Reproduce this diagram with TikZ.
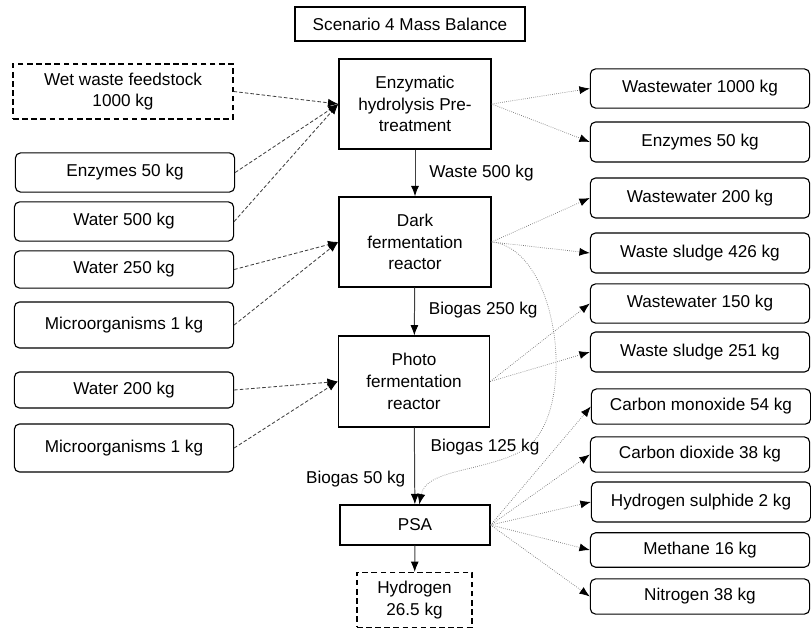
\documentclass[tikz,border=0pt]{standalone}
\usepackage{fontspec}
\setmainfont{Liberation Sans}
\usetikzlibrary{arrows.meta}
\tikzset{>={Latex[length=2.6mm,width=2mm,color=black]},font=\fontsize{12.2}{15.4}\selectfont}
\tikzset{
  procbox/.style={draw,line width=0.9pt,inner sep=0pt,align=center},
  sidebox/.style={draw,line width=0.8pt,rounded corners=1.3mm,inner sep=0pt,minimum width=5.48cm,align=center},
  dashbox/.style={draw,line width=0.9pt,dash pattern=on 4pt off 2.5pt,inner sep=0pt,align=center},
  inflow/.style={draw=black!75,line width=0.6pt,dash pattern=on 2.5pt off 1.5pt},
  outflow/.style={draw=black!55,line width=0.5pt,densely dotted},
  mainflow/.style={draw=black!75,line width=0.7pt}
}

\begin{document}
\begin{tikzpicture}[x=0.025cm,y=-0.025cm]
\useasboundingbox (0,0) rectangle (811,629);
\node[procbox,line width=0.8pt,minimum width=5.75cm,minimum height=0.85cm] (title) at (410,24) {Scenario 4 Mass Balance};
% main line
\node[procbox,minimum width=3.8cm,minimum height=2.25cm] (enzymatic) at (415,104) {Enzymatic\\hydrolysis Pre-\\treatment};
\node[procbox,minimum width=3.8cm,minimum height=2.25cm] (dark) at (415,242) {Dark\\fermentation\\reactor};
\node[procbox,minimum width=3.78cm,minimum height=2.27cm] (photo) at (414,381.5) {Photo\\fermentation\\reactor};
\node[procbox,minimum width=3.75cm,minimum height=1cm] (psa) at (415,525) {PSA};
\node[dashbox,minimum width=2.88cm,minimum height=1.37cm] (hydrogen) at (414.5,600) {Hydrogen\\26.5 kg};
% inputs
\node[dashbox,minimum width=5.5cm,minimum height=1.37cm] (wet) at (123,91.5) {Wet waste feedstock\\1000 kg};
\node[sidebox,minimum height=0.98cm] (enzin) at (125,172.5) {Enzymes 50 kg};
\node[sidebox,minimum height=0.98cm] (water500) at (124,221.5) {Water 500 kg};
\node[sidebox,minimum height=0.93cm] (water250) at (124,269.5) {Water 250 kg};
\node[sidebox,minimum height=1.15cm] (microdark) at (124,325) {Microorganisms 1 kg};
\node[sidebox,minimum height=0.9cm] (water200) at (124,390) {Water 200 kg};
\node[sidebox,minimum height=1.2cm] (microphoto) at (124,448) {Microorganisms 1 kg};
% outputs
\node[sidebox,minimum height=0.98cm] (ww1000) at (700,88.5) {Wastewater 1000 kg};
\node[sidebox,minimum height=1cm] (enzout) at (700,142) {Enzymes 50 kg};
\node[sidebox,minimum height=1cm] (ww200) at (700,198) {Wastewater 200 kg};
\node[sidebox,minimum height=1cm] (ws426) at (700,253) {Waste sludge 426 kg};
\node[sidebox,minimum height=0.98cm] (ww150) at (700,303.5) {Wastewater 150 kg};
\node[sidebox,minimum height=1cm] (ws251) at (700,352) {Waste sludge 251 kg};
\node[sidebox,minimum height=0.88cm] (co) at (701,406.5) {Carbon monoxide 54 kg};
\node[sidebox,minimum height=0.88cm] (cotwo) at (700,454.5) {Carbon dioxide 38 kg};
\node[sidebox,minimum height=1cm] (htwos) at (701,502) {Hydrogen sulphide 2 kg};
\node[sidebox,minimum height=0.86cm] (methane) at (700,550) {Methane 16 kg};
\node[sidebox,minimum height=0.88cm] (nitrogen) at (700,596.5) {Nitrogen 38 kg};
% flows down the line
\path[->] (enzymatic) edge[mainflow] node[right=6.5pt] {Waste 500 kg} (dark);
\path[->] (dark) edge[mainflow] node[right=6.5pt,yshift=1pt] {Biogas 250 kg} (photo);
\path[->] (photo) edge[mainflow] node[left=3pt,pos=0.67] {Biogas 50 kg} (psa);
\path[->] (psa) edge[mainflow] (hydrogen);
\coordinate (bend) at (520,452);
\draw[->,outflow] (dark.east) .. controls +(70,7) and +(60,-30) .. (bend)
  .. controls +(-40,20) and +(7,-35) .. ([xshift=3pt]psa.north);
\node (biogas125) at (485,447) {Biogas 125 kg};
% feeds
\path[->] (wet.east) edge[inflow] (enzymatic.west);
\path[->] (enzin.east) edge[inflow] (enzymatic.west);
\path[->] (water500.east) edge[inflow] (enzymatic.west);
\path[->] (water250.east) edge[inflow] (dark.west);
\path[->] (microdark.east) edge[inflow] (dark.west);
\path[->] (water200.east) edge[inflow] (photo.west);
\path[->] (microphoto.east) edge[inflow] (photo.west);
% products
\path[->] (enzymatic.east) edge[outflow] (ww1000.west);
\path[->] (enzymatic.east) edge[outflow] (enzout.west);
\path[->] (dark.east) edge[outflow] (ww200.west);
\path[->] (dark.east) edge[outflow] (ws426.west);
\path[->] (photo.east) edge[outflow] (ww150.west);
\path[->] (photo.east) edge[outflow] (ws251.west);
\path[->] (psa.east) edge[outflow] (co.west);
\path[->] (psa.east) edge[outflow] (cotwo.west);
\path[->] (psa.east) edge[outflow] (htwos.west);
\path[->] (psa.east) edge[outflow] (methane.west);
\path[->] (psa.east) edge[outflow] (nitrogen.west);
\end{tikzpicture}
\end{document}
